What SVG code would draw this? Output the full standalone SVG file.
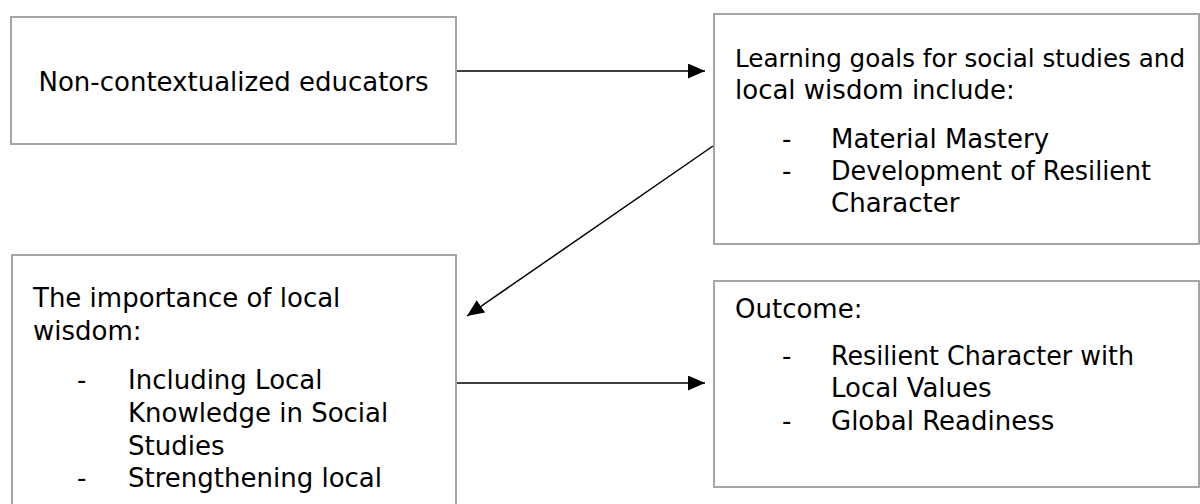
<svg xmlns="http://www.w3.org/2000/svg" width="1200" height="504" viewBox="0 0 1200 504">
<style>
.box{fill:#ffffff;stroke:#a6a6a6;stroke-width:2}
.t{font-family:"DejaVu Sans","Noto Sans",sans-serif;font-size:26px;fill:#000000}
.c{stroke:#000000;stroke-width:1.5;fill:none;marker-end:url(#ah)}
</style>
<defs>
<marker id="ah" markerUnits="userSpaceOnUse" markerWidth="17" markerHeight="15" refX="17" refY="7.5" orient="auto">
<path d="M0,0 L17,7.5 L0,15 Z" fill="#000000"/>
</marker>
</defs>
<rect width="1200" height="504" fill="#ffffff"/>
<g id="node-educators">
<rect class="box" x="11" y="17" width="445" height="127"/>
<text class="t" x="233.5" y="91" text-anchor="middle">Non-contextualized educators</text>
</g>
<g id="node-goals">
<rect class="box" x="714" y="14" width="485" height="230"/>
<text class="t" x="735" y="67" style="font-size:24.6px" textLength="450" lengthAdjust="spacingAndGlyphs">Learning goals for social studies and</text>
<text class="t" x="735" y="99">local wisdom include:</text>
<text class="t" x="782" y="148">-</text>
<text class="t" x="831" y="148">Material Mastery</text>
<text class="t" x="782" y="180">-</text>
<text class="t" x="831" y="180" textLength="320" lengthAdjust="spacingAndGlyphs">Development of Resilient</text>
<text class="t" x="831" y="212">Character</text>
</g>
<g id="node-importance">
<rect class="box" x="12" y="255" width="444" height="300"/>
<text class="t" x="33" y="307">The importance of local</text>
<text class="t" x="33" y="340">wisdom:</text>
<text class="t" x="77" y="389">-</text>
<text class="t" x="128" y="389">Including Local</text>
<text class="t" x="128" y="422">Knowledge in Social</text>
<text class="t" x="128" y="455">Studies</text>
<text class="t" x="77" y="487">-</text>
<text class="t" x="128" y="487">Strengthening local</text>
</g>
<g id="node-outcome">
<rect class="box" x="714" y="281" width="485" height="206"/>
<text class="t" x="735" y="318">Outcome:</text>
<text class="t" x="782" y="365">-</text>
<text class="t" x="831" y="365" textLength="303" lengthAdjust="spacingAndGlyphs">Resilient Character with</text>
<text class="t" x="831" y="397">Local Values</text>
<text class="t" x="782" y="430">-</text>
<text class="t" x="831" y="430">Global Readiness</text>
</g>
<g id="connectors">
<line class="c" x1="457" y1="71" x2="705" y2="71"/>
<line class="c" x1="713" y1="146" x2="467" y2="316"/>
<line class="c" x1="457" y1="383" x2="705" y2="383"/>
</g>
</svg>
